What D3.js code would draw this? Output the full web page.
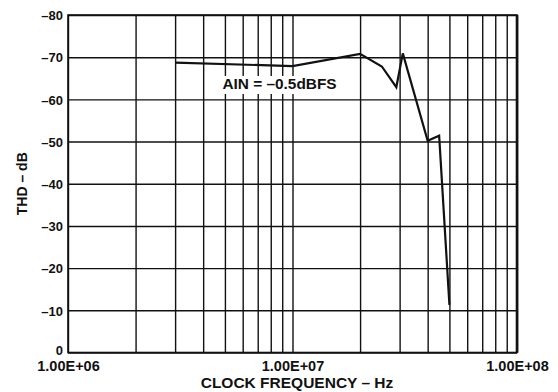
<!DOCTYPE html>
<html>
<head>
<meta charset="utf-8">
<script src="https://cdn.jsdelivr.net/npm/d3@7"></script>
<style>
  html, body { margin: 0; padding: 0; background: #fff; }
  svg { display: block; }
  text { font-family: "Liberation Sans", Arial, sans-serif; font-weight: bold; fill: #111; }
</style>
</head>
<body>
<svg id="chart" width="558" height="392"></svg>
<script>
// THD vs clock frequency, AIN = -0.5 dBFS
const clockHz = [3e6, 1e7, 2e7, 2.5e7, 2.9e7, 3.1e7, 4e7, 4.5e7, 5e7];
const thdDb   = [-68.7, -67.9, -70.8, -67.8, -62.9, -70.9, -50.2, -51.4, -11.3];

const yTickValues = [0, -10, -20, -30, -40, -50, -60, -70, -80];
const yTickLabels = ["0", "–10", "–20", "–30", "–40", "–50", "–60", "–70", "–80"];
const xDecades = [1e6, 1e7, 1e8];
const xDecadeLabels = ["1.00E+06", "1.00E+07", "1.00E+08"];
const xTitle = "CLOCK FREQUENCY – Hz";
const yTitle = "THD – dB";
const annotation = "AIN = –0.5dBFS";

const plot = { left: 68, right: 517, top: 15, bottom: 352.5 };
const svg = d3.select("#chart");

const x = d3.scaleLog().domain([1e6, 1e8]).range([plot.left, plot.right]);
const y = d3.scaleLinear().domain([0, -80]).range([plot.bottom, plot.top]);

// minor log grid: 1..9 per decade
const xGrid = [];
for (let d = 1e6; d < 1e8; d *= 10) for (let m = 1; m < 10; m++) xGrid.push(d * m);
xGrid.push(1e8);

const h = plot.bottom - plot.top;
const w = plot.right - plot.left;

// vertical grid + x labels
const xAxis = svg.append("g")
  .attr("transform", `translate(0,${plot.bottom})`)
  .call(d3.axisBottom(x)
    .tickValues(xGrid)
    .tickSize(-h)
    .tickSizeOuter(0)
    .tickPadding(4)
    .tickFormat(v => {
      const i = xDecades.findIndex(d => Math.abs(d - v) / d < 1e-9);
      return i >= 0 ? xDecadeLabels[i] : "";
    }));
xAxis.select(".domain").remove();
xAxis.selectAll("line").attr("stroke", "#111").attr("stroke-width", 1.4);
xAxis.selectAll("text").attr("font-size", 14.5).attr("y", 18).attr("dy", null);

// horizontal grid + y labels
const yAxis = svg.append("g")
  .attr("transform", `translate(${plot.left},0)`)
  .call(d3.axisLeft(y)
    .tickValues(yTickValues)
    .tickSize(-w)
    .tickSizeOuter(0)
    .tickPadding(5)
    .tickFormat((v, i) => yTickLabels[i]));
yAxis.select(".domain").remove();
yAxis.selectAll("line").attr("stroke", "#111").attr("stroke-width", 1.4);
yAxis.selectAll("text").attr("font-size", 13).attr("dy", "0.36em");
// the zero label sits a touch higher, clear of the decade label below it
yAxis.selectAll(".tick").filter(d => d === 0).select("text").attr("dy", "0.15em");

// frame
svg.append("rect")
  .attr("x", plot.left).attr("y", plot.top)
  .attr("width", w).attr("height", h)
  .attr("fill", "none").attr("stroke", "#111").attr("stroke-width", 1.6);
svg.append("line")
  .attr("x1", plot.right).attr("x2", plot.right)
  .attr("y1", plot.top).attr("y2", plot.bottom)
  .attr("stroke", "#111").attr("stroke-width", 2.6);

// annotation with white backing
const ann = svg.append("g");
const annText = ann.append("text")
  .attr("x", 279.5).attr("y", 88.5)
  .attr("text-anchor", "middle")
  .attr("font-size", 15.4)
  .text(annotation);
const bb = annText.node().getBBox();
ann.insert("rect", "text")
  .attr("x", bb.x - 2).attr("y", 76)
  .attr("width", bb.width + 4).attr("height", 18)
  .attr("fill", "#fff");

// data line
const line = d3.line()
  .x((d, i) => x(clockHz[i]))
  .y(d => y(d));
svg.append("path")
  .datum(thdDb)
  .attr("d", line)
  .attr("fill", "none")
  .attr("stroke", "#111")
  .attr("stroke-width", 2.2)
  .attr("stroke-linejoin", "miter");

// axis titles
svg.append("text")
  .attr("x", 297).attr("y", 387.5)
  .attr("text-anchor", "middle")
  .attr("font-size", 15.5)
  .text(xTitle);
svg.append("text")
  .attr("transform", `translate(27,${(plot.top + plot.bottom) / 2}) rotate(-90)`)
  .attr("text-anchor", "middle")
  .attr("font-size", 14)
  .text(yTitle);
</script>
</body>
</html>
